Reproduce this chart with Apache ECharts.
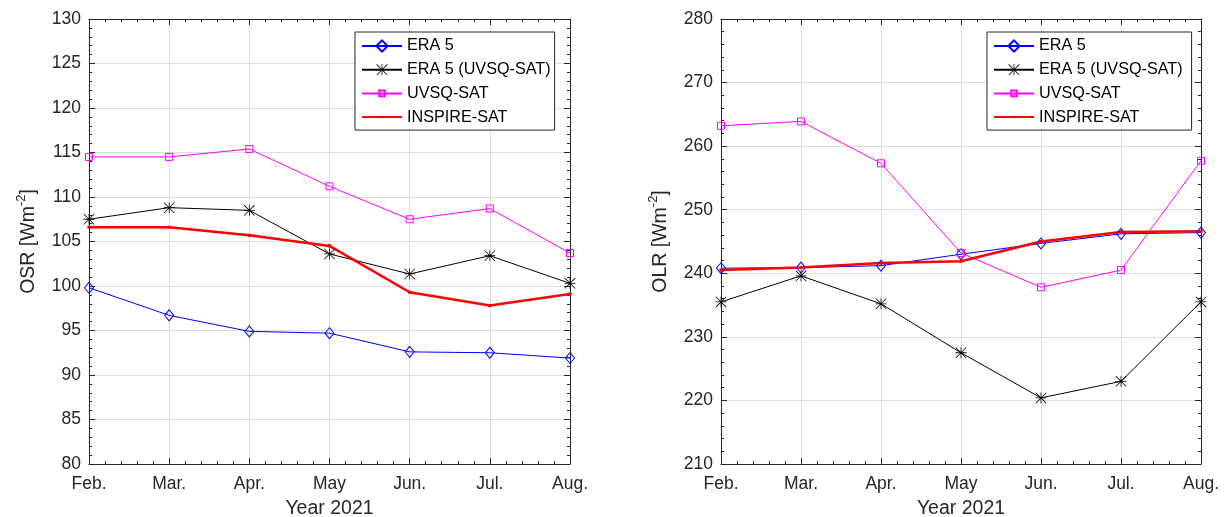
<!DOCTYPE html>
<html><head><meta charset="utf-8">
<script src="https://cdn.jsdelivr.net/npm/echarts@6/dist/echarts.min.js"></script>
<style>html,body{margin:0;padding:0;background:#fff}#c{width:1225px;height:517px}</style>
</head><body><div id="c"></div>
<script>
const months = ['Feb.','Mar.','Apr.','May','Jun.','Jul.','Aug.'];
const seriesNames = ['ERA 5','ERA 5 (UVSQ-SAT)','UVSQ-SAT','INSPIRE-SAT'];
const osrEra5      = [99.8, 96.7, 94.9, 94.7, 92.6, 92.5, 91.9];
const osrEra5Uvsq  = [107.5, 108.8, 108.5, 103.6, 101.35, 103.4, 100.3];
const osrUvsq      = [114.5, 114.5, 115.4, 111.2, 107.5, 108.7, 103.7];
const osrInspire   = [106.6, 106.6, 105.7, 104.5, 99.3, 97.8, 99.1];
const olrEra5      = [240.8, 240.9, 241.2, 243.0, 244.7, 246.2, 246.4];
const olrEra5Uvsq  = [235.5, 239.6, 235.2, 227.5, 220.4, 223.0, 235.5];
const olrUvsq      = [263.2, 263.9, 257.3, 243.2, 237.8, 240.5, 257.7];
const olrInspire   = [240.5, 240.9, 241.6, 241.9, 245.0, 246.5, 246.6];
const osrTicks = {min: 80, max: 130, interval: 5};
const olrTicks = {min: 210, max: 280, interval: 10};

const FONT = 'Liberation Sans, Arial, sans-serif';
const AX = '#262626';
const asterisk = 'path://M0,9.3H20V10.7H0Z M9.3,0H10.7V20H9.3Z M1,0L20,19L19,20L0,1Z M19,0L20,1L1,20L0,19Z';
// padded symbols: the small shape sits inside a 20x20 frame so the legend keeps it small
const smallSquare = 'path://M0,0L0.01,0.01M20,20L19.99,19.99M5,5H15V15H5Z';
const smallDot = 'path://M0,0L0.01,0.01M20,20L19.99,19.99M8,8H12V12H8Z';

function xAx(grid, pos, main) {
  return {
    type: 'value', gridIndex: grid, position: pos, min: 0, max: months.length - 1, interval: 1,
    axisLine: {show: true, onZero: false, lineStyle: {color: AX, width: 1}},
    axisTick: {show: true, inside: true, length: 6, lineStyle: {color: AX}},
    minorTick: {show: true, splitNumber: 5, length: 3, lineStyle: {color: AX}},
    splitLine: {show: main, lineStyle: {color: '#dedede', width: 1}},
    axisLabel: {show: main, formatter: v => months[v] || '', color: AX, fontFamily: FONT, fontSize: 17.5, margin: 11},
    name: main ? 'Year 2021' : '', nameLocation: 'middle', nameGap: 35,
    nameTextStyle: {color: AX, fontFamily: FONT, fontSize: 19.5}
  };
}
function yAx(grid, pos, main, t, label) {
  return {
    type: 'value', gridIndex: grid, position: pos, min: t.min, max: t.max, interval: t.interval,
    axisLine: {show: true, onZero: false, lineStyle: {color: AX, width: 1}},
    axisTick: {show: true, inside: true, length: 6, lineStyle: {color: AX}},
    minorTick: {show: true, splitNumber: 5, length: 3, lineStyle: {color: AX}},
    splitLine: {show: main, lineStyle: {color: '#dedede', width: 1}},
    axisLabel: {show: main, color: AX, fontFamily: FONT, fontSize: 17.5, margin: 8},
    name: main ? '{t|' + label + ' [Wm}{s|-2}{t|]}' : '', nameLocation: 'middle', nameGap: 50, nameRotate: 90,
    nameTextStyle: {color: AX, fontFamily: FONT, fontSize: 19.5,
      rich: {t: {fontSize: 19.5, fontFamily: FONT, color: AX, lineHeight: 24, verticalAlign: 'bottom'},
             s: {fontSize: 13, fontFamily: FONT, color: AX, lineHeight: 13, verticalAlign: 'top'}}}
  };
}
const styles = [
  {color: '#0000ff', width: 1, symbol: 'diamond', size: [9, 11], fill: 'rgba(0,0,0,0)', bw: 1},
  {color: '#000000', width: 1, symbol: asterisk, size: 11, fill: '#000000', bw: 0},
  {color: '#ff00ff', width: 1, symbol: smallSquare, size: 14, fill: 'rgba(0,0,0,0)', bw: 1},
  {color: '#ff0000', width: 2.5, symbol: smallDot, size: 16, fill: '#ff0000', bw: 0}
];
function mkSeries(grid, arrs) {
  return arrs.map((arr, k) => {
    const s = styles[k];
    return {
      type: 'line', name: seriesNames[k], xAxisIndex: grid * 2, yAxisIndex: grid * 2,
      data: arr.map((v, i) => [i, v]),
      symbol: s.symbol, symbolSize: s.size, showAllSymbol: true,
      lineStyle: {color: s.color, width: s.width},
      itemStyle: {color: s.fill, borderColor: s.color, borderWidth: s.bw},
      emphasis: {disabled: true}, animation: false, clip: false
    };
  });
}
function legend(left, padR) {
  return {
    left: left, top: 32, orient: 'vertical', data: seriesNames,
    itemWidth: 40, itemHeight: 14, itemGap: 7.7, padding: [6, padR, 5, 6],
    borderColor: AX, borderWidth: 1, backgroundColor: '#fff', borderRadius: 0,
    textStyle: {color: '#000', fontFamily: FONT, fontSize: 16.2},
    selectedMode: false
  };
}
const chart = echarts.init(document.getElementById('c'));
chart.setOption({
  animation: false,
  backgroundColor: '#fff',
  grid: [
    {left: 89, right: 655, top: 19, bottom: 53, show: false, containLabel: false, outerBoundsMode: 'none'},
    {left: 721, right: 24, top: 19, bottom: 53, show: false, containLabel: false, outerBoundsMode: 'none'}
  ],
  xAxis: [xAx(0, 'bottom', true), xAx(0, 'top', false), xAx(1, 'bottom', true), xAx(1, 'top', false)],
  yAxis: [yAx(0, 'left', true, osrTicks, 'OSR'), yAx(0, 'right', false, osrTicks, ''),
          yAx(1, 'left', true, olrTicks, 'OLR'), yAx(1, 'right', false, olrTicks, '')],
  legend: [legend(355, 4), legend(987, 9)],
  series: [...mkSeries(0, [osrEra5, osrEra5Uvsq, osrUvsq, osrInspire]),
           ...mkSeries(1, [olrEra5, olrEra5Uvsq, olrUvsq, olrInspire])]
});
</script></body></html>
